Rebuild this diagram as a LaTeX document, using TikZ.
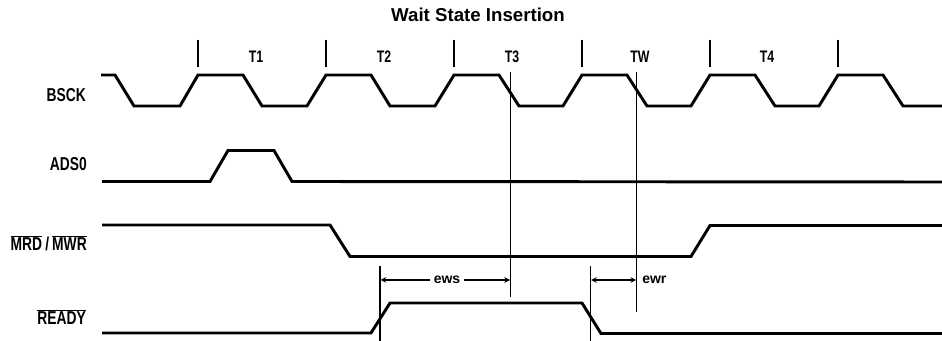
\documentclass[tikz,border=0pt]{standalone}
\usepackage{fontspec}
\setmainfont{Liberation Sans}
\newfontfamily\narrowfont[FakeStretch=0.74]{Liberation Sans}
\usetikzlibrary{arrows}
\def\nb#1{$\overline{\mbox{#1}}$}
\tikzset{
  wave/.style={line width=2.2pt,line join=miter},
  tick/.style={line width=0.9pt},
  cursor/.style={line width=0.9pt},
  dimline/.style={line width=0.9pt,>=stealth},
  siglabel/.style={font=\narrowfont\fontsize{14}{15}\bfseries\selectfont,inner sep=0pt,left},
  tlabel/.style={font=\narrowfont\fontsize{12.5}{13}\bfseries\selectfont,inner sep=0pt},
  dimlabel/.style={font=\fontsize{10.5}{12}\bfseries\selectfont,inner sep=0pt}
}
\begin{document}
\begin{tikzpicture}[x=0.75pt,y=-0.75pt]
    \useasboundingbox (0,0) rectangle (942,341);
    \node (title) at (478,15)[font=\fontsize{14}{15}\bfseries\selectfont,inner sep=0pt]{Wait State Insertion};
    % clock ticks
    \draw[tick](198,40)--(198,67);
    \draw[tick](326,40)--(326,67);
    \draw[tick](454,40)--(454,67);
    \draw[tick](582,40)--(582,67);
    \draw[tick](710,40)--(710,67);
    \draw[tick](838,40)--(838,67);
    \node (t1) at (256,57)[tlabel]{T1};
    \node (t2) at (384,57)[tlabel]{T2};
    \node (t3) at (512,57)[tlabel]{T3};
    \node (tw) at (640,57)[tlabel]{TW};
    \node (t4) at (767,57)[tlabel]{T4};
    % signal names
    \node (bsck) at (86,95)[siglabel]{BSCK};
    \node (adso) at (87,164)[siglabel]{ADS0};
    \node (mrd) at (87,243)[siglabel]{\nb{MRD}\,/\,\nb{MWR}};
    \node (ready) at (86,317)[siglabel]{\nb{READY}};
    % waveforms
    \draw[wave](101,75)--(115,75)--(134,106)--(180,106)--(198,75)--(243,75)--(262,106)--(307,106)--(326,75)--(371,75)--(390,106)--(435,106)--(454,75)--(499,75)--(519,106)--(563,106)--(582,75)--(627,75)--(647,106)--(691,106)--(710,75)--(755,75)--(775,106)--(819,106)--(838,75)--(883,75)--(903,106)--(942,106);
    \draw[wave](102,181.5)--(210,181.5)--(228,150.5)--(274,150.5)--(292,181.5)--(942,182);
    \draw[wave](102,225)--(330,225)--(350,256.5)--(691,256.5)--(710,225.5)--(942,225.5);
    \draw[wave](102,333)--(371,333)--(390,303)--(582,303)--(601,333.5)--(942,333.5);
    % timing cursors
    \coordinate (wsa) at (380,266);
    \coordinate (wsb) at (380,341);
    \coordinate (wsc) at (510.5,72);
    \coordinate (wsd) at (510.5,297);
    \coordinate (wra) at (590.5,266);
    \coordinate (wrb) at (590.5,341);
    \coordinate (wrc) at (636.7,72);
    \coordinate (wrd) at (636.7,312);
    \draw[cursor](wsa)--(wsb);
    \draw[cursor](wsc)--(wsd);
    \draw[cursor](wra)--(wrb);
    \draw[cursor](wrc)--(wrd);
    \coordinate (ewsl) at (380.5,280);
    \coordinate (ewsr) at (510,280);
    \coordinate (ewrl) at (591,280);
    \coordinate (ewrr) at (636.2,280);
    \node (ews) at (447,280)[dimlabel,inner xsep=2.5pt]{ews};
    \node (ewr) at (642,280)[dimlabel,right]{ewr};
    \draw[dimline,->](ews)--(ewsl);
    \draw[dimline,->](ews)--(ewsr);
    \draw[dimline,<->](ewrl)--(ewrr);
\end{tikzpicture}
\end{document}
